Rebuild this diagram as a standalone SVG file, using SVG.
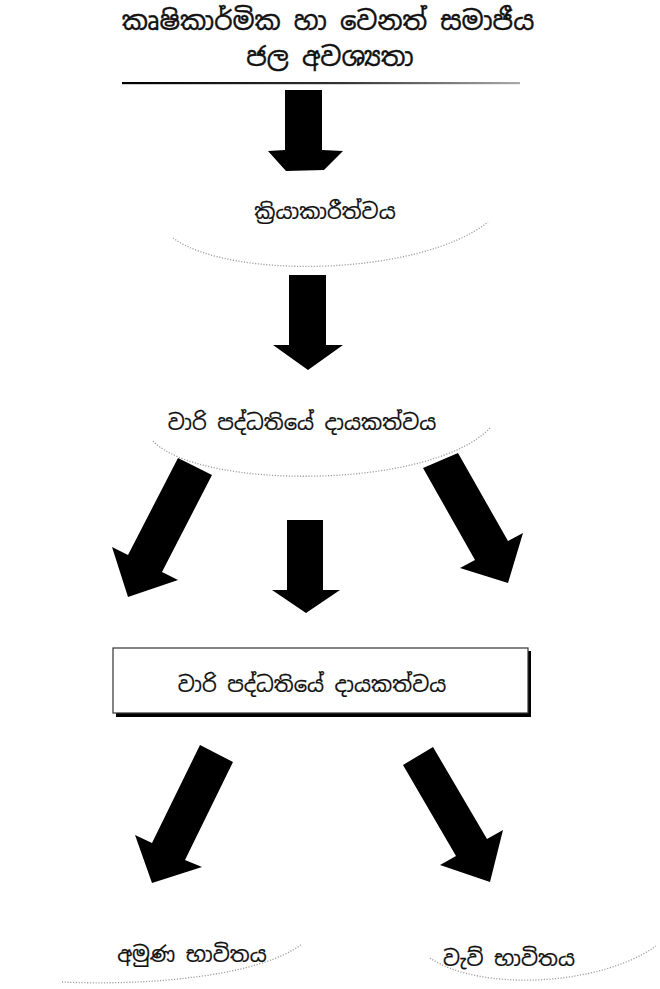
<svg xmlns="http://www.w3.org/2000/svg" width="660" height="989" viewBox="0 0 660 989">
<style>
  text { font-family: "Noto Sans Sinhala", "Noto Serif Sinhala", "Iskoola Pota", "Noto Sans", "DejaVu Sans", sans-serif; fill: #111; text-anchor: middle; }
  .title { font-size: 26px; stroke: #111; stroke-width: 0.4; }
  .lbl { font-size: 21px; stroke: #111; stroke-width: 0.2; }
  .arrow { fill: #000; }
  .arc { fill: none; stroke: #a0a0a0; stroke-width: 1.3; stroke-dasharray: 1.2 1.6; }
</style>
<defs>
  <linearGradient id="fade" x1="0" y1="0" x2="1" y2="0">
    <stop offset="0" stop-color="#000"/>
    <stop offset="0.55" stop-color="#333"/>
    <stop offset="1" stop-color="#aaa"/>
  </linearGradient>
</defs>
<rect x="0" y="0" width="660" height="989" fill="#fff"/>

<g id="title">
  <text class="title" x="328" y="30">කෘෂිකාර්මික හා වෙනත් සමාජීය</text>
  <text class="title" x="330" y="66">ජල අවශ්‍යතා</text>
  <rect x="122" y="82" width="398" height="2.2" fill="url(#fade)"/>
</g>

<g id="n1">
  <text class="lbl" x="325" y="219">ක්‍රියාකාරීත්වය</text>
  <path class="arc" d="M173,238 C230,280 420,276 488,222"/>
</g>

<g id="n2">
  <text class="lbl" x="302" y="430">වාරි පද්ධතියේ දායකත්වය</text>
  <path class="arc" d="M153,441 C200,490 430,490 490,428"/>
</g>

<g id="n3">
  <rect x="116" y="651" width="415" height="66" fill="#000"/>
  <rect x="113" y="648" width="415" height="65" fill="#fff" stroke="#333" stroke-width="1.2"/>
  <text class="lbl" x="312" y="692">වාරි පද්ධතියේ දායකත්වය</text>
</g>

<g id="n4">
  <text class="lbl" x="192" y="962">අමුණ භාවිතය</text>
  <path class="arc" d="M62,982 C150,986 260,976 302,944"/>
</g>

<g id="n5">
  <text class="lbl" x="509" y="966">වැව් භාවිතය</text>
  <path class="arc" d="M430,958 C480,992 600,986 656,946"/>
</g>

<g id="connectors">
  <polygon class="arrow" points="285,90 322,90 322,150 343,151 324,170 286,171 268,151 285,150"/>
  <polygon class="arrow" points="289,275 326,275 326,345 343,345 308,370 273,345 289,345"/>
  <polygon class="arrow" points="178,458 212,475 162,572 178,580 128,597 112,547 128,555"/>
  <polygon class="arrow" points="287,520 323,520 323,590 340,590 306,613 272,590 287,590"/>
  <polygon class="arrow" points="423,468 458,453 508,541 523,533 508,583 460,568 475,560"/>
  <polygon class="arrow" points="200,745 233,762 185,860 202,867 152,883 135,835 152,843"/>
  <polygon class="arrow" points="403,765 433,747 487,839 503,830 490,882 440,865 456,856"/>
</g>
</svg>
